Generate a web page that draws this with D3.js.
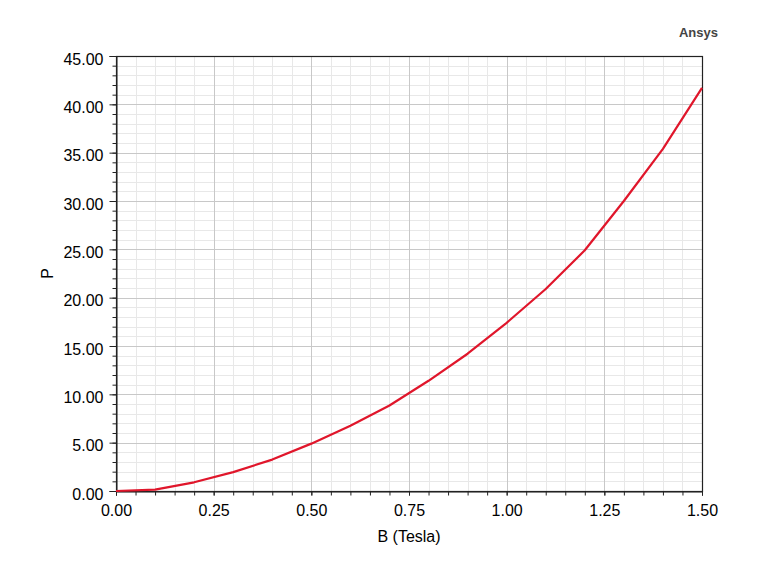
<!DOCTYPE html>
<html>
<head>
<meta charset="utf-8">
<script src="https://cdn.jsdelivr.net/npm/d3@7"></script>
<style>
  body { margin: 0; background: #fff; }
  svg { display: block; font-family: "Liberation Sans", Arial, sans-serif; }
</style>
</head>
<body>
<svg id="CHART" width="780" height="571"></svg>
<script>
// values
const bValues = [0, 0.1, 0.2, 0.3, 0.4, 0.5, 0.6, 0.7, 0.8, 0.9, 1.0, 1.1, 1.2, 1.3, 1.4, 1.5];
const pValues = [0, 0.15, 0.9, 1.95, 3.25, 4.9, 6.75, 8.85, 11.4, 14.2, 17.4, 20.9, 24.9, 30.0, 35.4, 41.7];
const xTicks = [0, 0.25, 0.5, 0.75, 1.0, 1.25, 1.5];
const yTicks = [0, 5, 10, 15, 20, 25, 30, 35, 40, 45];

const width = 780;
const height = 571;
const margin = { top: 56, right: 78, bottom: 80, left: 116 };
const innerW = width - margin.left - margin.right;
const innerH = height - margin.top - margin.bottom;

const svg = d3.select("#CHART");
const g = svg.append("g").attr("transform", `translate(${margin.left},${margin.top})`);

const x = d3.scaleLinear().domain([0, 1.5]).range([0, innerW]);
const y = d3.scaleLinear().domain([0, 45]).range([innerH, 0]);

const xMinor = d3.range(0, 31).map((i) => i * 0.05);
const yMinor = d3.range(0, 46);

// minor grid
g.append("g")
  .attr("stroke", "#e8e8e8")
  .attr("stroke-width", 1)
  .call((sel) => {
    sel.selectAll(".vx").data(xMinor).join("line")
      .attr("x1", (d) => Math.round(x(d)) + 0.5).attr("x2", (d) => Math.round(x(d)) + 0.5)
      .attr("y1", 0).attr("y2", innerH);
    sel.selectAll(".hy").data(yMinor).join("line")
      .attr("y1", (d) => Math.round(y(d)) + 0.5).attr("y2", (d) => Math.round(y(d)) + 0.5)
      .attr("x1", 0).attr("x2", innerW);
  });

// major grid
g.append("g")
  .attr("stroke", "#c8c8c8")
  .attr("stroke-width", 1)
  .call((sel) => {
    sel.selectAll(".vx").data(xTicks).join("line")
      .attr("x1", (d) => Math.round(x(d)) + 0.5).attr("x2", (d) => Math.round(x(d)) + 0.5)
      .attr("y1", 0).attr("y2", innerH);
    sel.selectAll(".hy").data(yTicks).join("line")
      .attr("y1", (d) => Math.round(y(d)) + 0.5).attr("y2", (d) => Math.round(y(d)) + 0.5)
      .attr("x1", 0).attr("x2", innerW);
  });

// frame
g.append("rect")
  .attr("x", 0.5).attr("y", 0.5)
  .attr("width", innerW).attr("height", innerH)
  .attr("fill", "none")
  .attr("stroke", "#222")
  .attr("stroke-width", 1.2);

// x axis: minor ticks then major with labels
g.append("g")
  .attr("transform", `translate(0,${innerH + 0.5})`)
  .call(d3.axisBottom(x).tickValues(xMinor).tickSize(4).tickFormat(""))
  .call((a) => a.select(".domain").remove())
  .call((a) => a.selectAll("line").attr("stroke", "#222"));

const xAxis = g.append("g")
  .attr("transform", `translate(0,${innerH + 0.5})`)
  .call(d3.axisBottom(x).tickValues(xTicks).tickSize(4).tickPadding(9).tickFormat(d3.format(".2f")));
xAxis.select(".domain").attr("stroke", "#222");
xAxis.selectAll("line").attr("stroke", "#222");
xAxis.selectAll("text").attr("fill", "#000").style("font-size", "16px");

// y axis
g.append("g")
  .attr("transform", "translate(0.5,0)")
  .call(d3.axisLeft(y).tickValues(yMinor).tickSize(4).tickFormat(""))
  .call((a) => a.select(".domain").remove())
  .call((a) => a.selectAll("line").attr("stroke", "#222"));

const yAxis = g.append("g")
  .attr("transform", "translate(0.5,0)")
  .call(d3.axisLeft(y).tickValues(yTicks).tickSize(7).tickPadding(6).tickFormat(d3.format(".2f")));
yAxis.select(".domain").attr("stroke", "#222");
yAxis.selectAll("line").attr("stroke", "#222");
yAxis.selectAll("text").attr("fill", "#000").attr("dy", "0.5em").style("font-size", "16px");

// curve
const line = d3.line()
  .x((d, i) => x(bValues[i]))
  .y((d) => y(d));

g.append("path")
  .datum(pValues)
  .attr("fill", "none")
  .attr("stroke", "#e0162b")
  .attr("stroke-width", 2.2)
  .attr("stroke-linejoin", "round")
  .attr("d", line);

// labels
svg.append("text")
  .attr("x", margin.left + innerW / 2)
  .attr("y", 542)
  .attr("text-anchor", "middle")
  .style("font-size", "16px")
  .text("B (Tesla)");

svg.append("text")
  .attr("transform", `translate(53,${margin.top + innerH / 2}) rotate(-90)`)
  .attr("text-anchor", "middle")
  .style("font-size", "16px")
  .text("P");

svg.append("text")
  .attr("x", 718)
  .attr("y", 37)
  .attr("text-anchor", "end")
  .attr("fill", "#444")
  .style("font-size", "13px")
  .style("font-weight", "bold")
  .text("Ansys");
</script>
</body>
</html>
